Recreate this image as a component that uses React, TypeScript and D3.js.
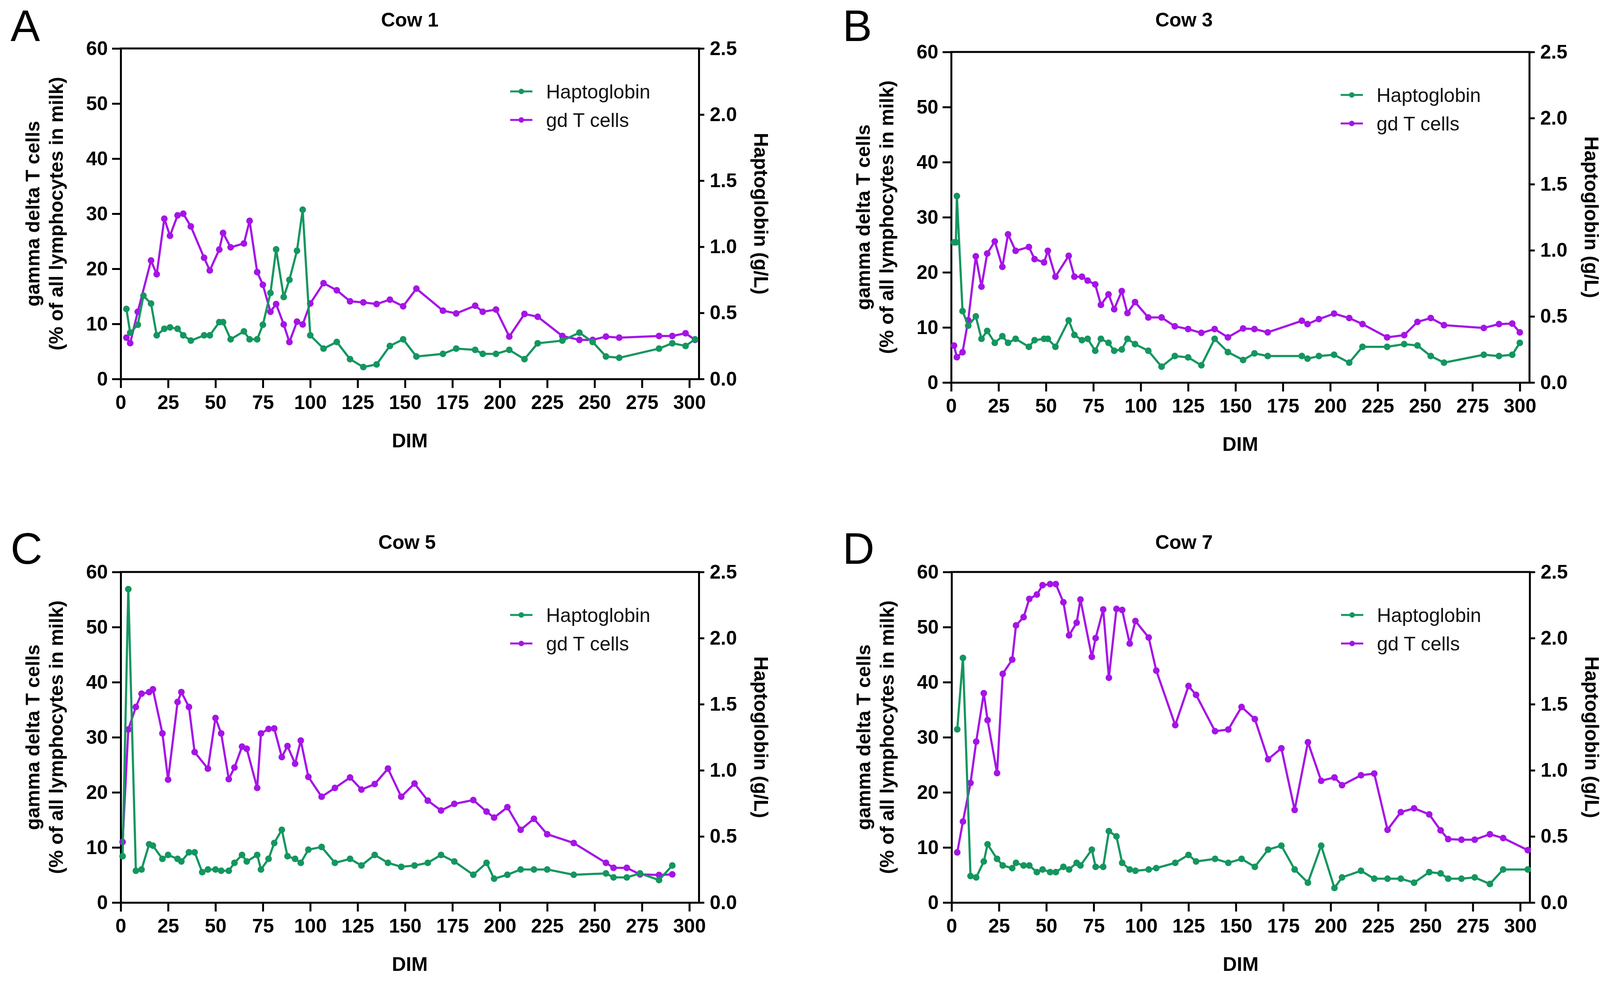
import { useEffect, useRef } from 'react'
import * as d3 from 'd3'

// ---- data (DIM = days in milk) ----
// gd T cells: % of all lymphocytes in milk (left axis)
// Haptoglobin: g/L (right axis)

const dimTicks = [0, 25, 50, 75, 100, 125, 150, 175, 200, 225, 250, 275, 300]
const gdTicks = [0, 10, 20, 30, 40, 50, 60]
const hapTicks = [0, 0.5, 1.0, 1.5, 2.0, 2.5]
const seriesLabels = ['Haptoglobin', 'gd T cells']

// Cow 1
const cow1GdDim = [3, 5, 9, 16, 19, 23, 26, 30, 33, 37, 44, 47, 52, 54, 58, 65, 68, 72, 75, 79, 82, 86, 89, 93, 96, 100, 107, 114, 121, 128, 135, 142, 149, 156, 170, 177, 187, 191, 198, 205, 213, 220, 233, 242, 249, 256, 263, 284, 291, 298, 303]
const cow1Gd = [7.5, 6.5, 12.2, 21.5, 19.0, 29.1, 26.0, 29.7, 30.0, 27.7, 22.0, 19.7, 23.5, 26.5, 23.9, 24.6, 28.7, 19.4, 17.1, 12.2, 13.6, 9.9, 6.7, 10.4, 9.9, 13.7, 17.4, 16.1, 14.1, 13.9, 13.6, 14.4, 13.2, 16.4, 12.4, 11.9, 13.3, 12.2, 12.6, 7.7, 11.8, 11.3, 7.8, 7.1, 7.1, 7.7, 7.5, 7.8, 7.8, 8.3, 7.1]
const cow1HapDim = [3, 5, 9, 12, 16, 19, 23, 26, 30, 33, 37, 44, 47, 52, 54, 58, 65, 68, 72, 75, 79, 82, 86, 89, 93, 96, 100, 107, 114, 121, 128, 135, 142, 149, 156, 170, 177, 187, 191, 198, 205, 213, 220, 233, 242, 249, 256, 263, 284, 291, 298, 303]
const cow1Hap = [0.53, 0.35, 0.41, 0.63, 0.57, 0.33, 0.38, 0.39, 0.38, 0.33, 0.29, 0.33, 0.33, 0.43, 0.43, 0.30, 0.36, 0.30, 0.30, 0.41, 0.65, 0.98, 0.62, 0.75, 0.97, 1.28, 0.33, 0.23, 0.28, 0.15, 0.09, 0.11, 0.25, 0.30, 0.17, 0.19, 0.23, 0.22, 0.19, 0.19, 0.22, 0.15, 0.27, 0.29, 0.35, 0.28, 0.17, 0.16, 0.23, 0.27, 0.25, 0.30]

// Cow 3
const cow3GdDim = [1.5, 3, 6, 9, 13, 16, 19, 23, 27, 30, 34, 41, 44, 49, 51, 55, 62, 65, 69, 72, 76, 79, 83, 86, 90, 93, 97, 104, 111, 118, 125, 132, 139, 146, 154, 160, 167, 185, 188, 194, 202, 210, 217, 230, 239, 246, 253, 260, 281, 289, 296, 300]
const cow3Gd = [6.7, 4.6, 5.5, 11.3, 22.9, 17.4, 23.4, 25.6, 21.0, 26.9, 23.9, 24.6, 22.4, 21.8, 23.9, 19.2, 23.0, 19.2, 19.2, 18.5, 17.8, 14.1, 16.0, 13.3, 16.6, 12.6, 14.6, 11.8, 11.8, 10.2, 9.7, 9.0, 9.7, 8.2, 9.8, 9.7, 9.1, 11.2, 10.6, 11.5, 12.5, 11.7, 10.6, 8.2, 8.6, 11.0, 11.7, 10.4, 9.9, 10.6, 10.7, 9.1]
const cow3HapDim = [1.5, 2.5, 3, 6, 9, 13, 16, 19, 23, 27, 30, 34, 41, 44, 49, 51, 55, 62, 65, 69, 72, 76, 79, 83, 86, 90, 93, 97, 104, 111, 118, 125, 132, 139, 146, 154, 160, 167, 185, 188, 194, 202, 210, 217, 230, 239, 246, 253, 260, 281, 289, 296, 300]
const cow3Hap = [1.06, 1.06, 1.41, 0.54, 0.43, 0.50, 0.33, 0.39, 0.30, 0.35, 0.30, 0.33, 0.27, 0.32, 0.33, 0.33, 0.27, 0.47, 0.36, 0.32, 0.33, 0.24, 0.33, 0.30, 0.24, 0.25, 0.33, 0.29, 0.24, 0.12, 0.20, 0.19, 0.13, 0.33, 0.23, 0.17, 0.22, 0.20, 0.20, 0.18, 0.20, 0.21, 0.15, 0.27, 0.27, 0.29, 0.28, 0.20, 0.15, 0.21, 0.20, 0.21, 0.30]

// Cow 5
const cow5GdDim = [1, 4, 8, 11, 15, 17, 22, 25, 30, 32, 36, 39, 46, 50, 53, 57, 60, 64, 66.5, 72, 74, 78, 81, 85, 88, 92, 95, 99, 106, 113, 121, 127, 134, 141, 148, 155, 162, 169, 176, 186, 193, 197, 204, 211, 218, 225, 239, 256, 260, 267, 274, 284, 291]
const cow5Gd = [11.0, 31.4, 35.5, 37.9, 38.2, 38.7, 30.7, 22.3, 36.4, 38.2, 35.5, 27.3, 24.3, 33.5, 30.7, 22.4, 24.5, 28.3, 27.9, 20.8, 30.7, 31.5, 31.6, 26.4, 28.4, 25.2, 29.4, 22.8, 19.2, 20.8, 22.7, 20.5, 21.5, 24.3, 19.2, 21.6, 18.5, 16.7, 17.9, 18.6, 16.5, 15.4, 17.3, 13.2, 15.2, 12.4, 10.8, 7.2, 6.3, 6.3, 5.1, 5.0, 5.1]
const cow5HapDim = [1, 4, 8, 11, 15, 17, 22, 25, 30, 32, 36, 39, 43, 46, 50, 53, 57, 60, 64, 66.5, 72, 74, 78, 81, 85, 88, 92, 95, 99, 106, 113, 121, 127, 134, 141, 148, 155, 162, 169, 176, 186, 193, 197, 204, 211, 218, 225, 239, 256, 260, 267, 274, 284, 291]
const cow5Hap = [0.35, 2.37, 0.24, 0.25, 0.44, 0.43, 0.33, 0.36, 0.33, 0.31, 0.38, 0.38, 0.23, 0.25, 0.25, 0.24, 0.24, 0.30, 0.36, 0.31, 0.36, 0.25, 0.33, 0.45, 0.55, 0.35, 0.33, 0.30, 0.40, 0.42, 0.30, 0.33, 0.28, 0.36, 0.30, 0.27, 0.28, 0.30, 0.36, 0.31, 0.21, 0.30, 0.18, 0.21, 0.25, 0.25, 0.25, 0.21, 0.22, 0.19, 0.19, 0.22, 0.17, 0.28]

// Cow 7
const cow7GdDim = [3, 6, 10, 13, 17, 19, 24, 27, 32, 34, 38, 41, 45, 48, 52, 55, 59, 62, 66, 68, 74, 76, 80, 83, 87, 90, 94, 97, 104, 108, 118, 125, 129, 139, 146, 153, 160, 167, 174, 181, 188, 195, 202, 206, 216, 223, 230, 237, 244, 252, 258, 262, 269, 276, 284, 291, 304]
const cow7Gd = [9.1, 14.7, 21.7, 29.2, 38.0, 33.1, 23.5, 41.5, 44.1, 50.3, 51.8, 55.1, 55.9, 57.6, 57.8, 57.8, 54.5, 48.5, 50.8, 55.0, 44.6, 48.0, 53.2, 40.8, 53.3, 53.1, 47.0, 51.1, 48.1, 42.1, 32.2, 39.3, 37.7, 31.1, 31.4, 35.5, 33.3, 26.0, 28.0, 16.8, 29.1, 22.1, 22.7, 21.3, 23.1, 23.4, 13.2, 16.4, 17.1, 16.0, 13.1, 11.5, 11.4, 11.4, 12.4, 11.7, 9.5]
const cow7HapDim = cow7GdDim
const cow7Hap = [1.31, 1.85, 0.20, 0.19, 0.31, 0.44, 0.33, 0.28, 0.26, 0.30, 0.28, 0.28, 0.23, 0.25, 0.23, 0.23, 0.27, 0.25, 0.30, 0.28, 0.40, 0.27, 0.27, 0.54, 0.50, 0.30, 0.25, 0.24, 0.25, 0.26, 0.30, 0.36, 0.31, 0.33, 0.30, 0.33, 0.27, 0.40, 0.43, 0.25, 0.15, 0.43, 0.11, 0.19, 0.24, 0.18, 0.18, 0.18, 0.15, 0.23, 0.22, 0.18, 0.18, 0.19, 0.14, 0.25, 0.25]

const FONT = '"Liberation Sans", Arial, Helvetica, sans-serif'
const GREEN = '#14965f'
const PURPLE = '#a514e6'
const PLOT_W = 1480
const PLOT_H = 846
const X_MAX = 305
const AXIS_W = 5

interface PanelProps {
  letter: string
  title: string
  left: number
  top: number
  titleX: number
  titleY: number
  letterX: number
  letterY: number
  gdDim: number[]
  gd: number[]
  hapDim: number[]
  hap: number[]
}

function CowPanel(p: PanelProps) {
  const ref = useRef<SVGGElement>(null)

  useEffect(() => {
    if (!ref.current) return
    const root = d3.select(ref.current)
    root.selectAll('*').remove()

    const x = d3.scaleLinear().domain([0, X_MAX]).range([0, PLOT_W])
    const yL = d3.scaleLinear().domain([0, 60]).range([PLOT_H, 0])
    const yR = d3.scaleLinear().domain([0, 2.5]).range([PLOT_H, 0])

    // panel letter + title
    root.append('text')
      .attr('x', p.letterX)
      .attr('y', p.letterY)
      .attr('font-family', FONT)
      .attr('font-size', 113)
      .text(p.letter)

    root.append('text')
      .attr('x', p.titleX)
      .attr('y', p.titleY)
      .attr('text-anchor', 'middle')
      .attr('font-family', FONT)
      .attr('font-weight', 'bold')
      .attr('font-size', 50)
      .text(p.title)

    const g = root.append('g').attr('transform', `translate(${p.left},${p.top})`)

    // top frame line
    g.append('line')
      .attr('x1', 0).attr('x2', PLOT_W)
      .attr('y1', 0).attr('y2', 0)
      .attr('stroke', '#000')
      .attr('stroke-width', AXIS_W)
      .attr('stroke-linecap', 'square')

    const styleAxis = (sel: d3.Selection<SVGGElement, unknown, null, undefined>) => {
      sel.attr('font-size', 50)
        .attr('font-family', FONT)
        .attr('font-weight', 'bold')
      sel.selectAll('path.domain')
        .attr('stroke-width', AXIS_W)
        .attr('stroke-linecap', 'square')
      sel.selectAll('.tick line').attr('stroke-width', AXIS_W)
      sel.selectAll('.tick text').attr('fill', '#000')
    }

    g.append('g')
      .attr('transform', `translate(0,${PLOT_H})`)
      .call(d3.axisBottom(x).tickValues(dimTicks).tickSize(23).tickSizeOuter(0).tickPadding(18).tickFormat(d3.format('d')))
      .call(styleAxis)

    g.append('g')
      .call(d3.axisLeft(yL).tickValues(gdTicks).tickSize(22).tickSizeOuter(0).tickPadding(11).tickFormat(d3.format('d')))
      .call(styleAxis)

    g.append('g')
      .attr('transform', `translate(${PLOT_W},0)`)
      .call(d3.axisRight(yR).tickValues(hapTicks).tickSize(14).tickSizeOuter(0).tickPadding(14).tickFormat(d3.format('.1f')))
      .call(styleAxis)

    // axis titles
    const ylab = g.append('text')
      .attr('transform', `translate(${-208},${PLOT_H / 2}) rotate(-90)`)
      .attr('text-anchor', 'middle')
      .attr('font-family', FONT)
      .attr('font-weight', 'bold')
      .attr('font-size', 50)
    ylab.append('tspan').attr('x', 0).attr('y', 0).text('gamma delta T cells')
    ylab.append('tspan').attr('x', 0).attr('y', 60).text('(% of all lymphocytes in milk)')

    g.append('text')
      .attr('transform', `translate(${PLOT_W + 142},${PLOT_H / 2}) rotate(90)`)
      .attr('text-anchor', 'middle')
      .attr('font-family', FONT)
      .attr('font-weight', 'bold')
      .attr('font-size', 50)
      .text('Haptoglobin (g/L)')

    g.append('text')
      .attr('x', PLOT_W / 2)
      .attr('y', PLOT_H + 175)
      .attr('text-anchor', 'middle')
      .attr('font-family', FONT)
      .attr('font-weight', 'bold')
      .attr('font-size', 50)
      .text('DIM')

    // series
    const gdPts = d3.zip(p.gdDim, p.gd) as [number, number][]
    const hapPts = d3.zip(p.hapDim, p.hap) as [number, number][]

    const gdLine = d3.line<[number, number]>().x(d => x(d[0])).y(d => yL(d[1]))
    const hapLine = d3.line<[number, number]>().x(d => x(d[0])).y(d => yR(d[1]))

    const drawSeries = (pts: [number, number][], line: d3.Line<[number, number]>, y: d3.ScaleLinear<number, number>, color: string) => {
      g.append('path')
        .datum(pts)
        .attr('d', line)
        .attr('fill', 'none')
        .attr('stroke', color)
        .attr('stroke-width', 5.5)
        .attr('stroke-linejoin', 'round')
      g.append('g')
        .selectAll('circle')
        .data(pts)
        .join('circle')
        .attr('cx', d => x(d[0]))
        .attr('cy', d => y(d[1]))
        .attr('r', 8.5)
        .attr('fill', color)
    }

    drawSeries(gdPts, gdLine, yL, PURPLE)
    drawSeries(hapPts, hapLine, yR, GREEN)

    // legend
    const legend = g.append('g').attr('transform', 'translate(997,110)')
    ;[GREEN, PURPLE].forEach((color, i) => {
      const row = legend.append('g').attr('transform', `translate(0,${i * 73})`)
      row.append('line')
        .attr('x1', 0).attr('x2', 57)
        .attr('stroke', color)
        .attr('stroke-width', 5)
      row.append('circle').attr('cx', 28.5).attr('r', 7).attr('fill', color)
      row.append('text')
        .attr('x', 92)
        .attr('dy', '0.35em')
        .attr('font-family', FONT)
        .attr('font-size', 50)
        .attr('fill', '#111')
        .text(seriesLabels[i])
    })
  }, [p])

  return <g ref={ref} />
}

export default function App() {
  return (
    <svg
      width={4115}
      height={2516}
      style={{ position: 'absolute', left: 0, top: 0, background: '#fff' }}
    >
      <rect width={4115} height={2516} fill="#fff" />
      <CowPanel letter="A" title="Cow 1" left={309} top={124} titleX={1049} titleY={68} letterX={27} letterY={105}
        gdDim={cow1GdDim} gd={cow1Gd} hapDim={cow1HapDim} hap={cow1Hap} />
      <CowPanel letter="B" title="Cow 3" left={2435} top={133} titleX={3031} titleY={68} letterX={2157} letterY={105}
        gdDim={cow3GdDim} gd={cow3Gd} hapDim={cow3HapDim} hap={cow3Hap} />
      <CowPanel letter="C" title="Cow 5" left={309} top={1464} titleX={1042} titleY={1405} letterX={27} letterY={1443}
        gdDim={cow5GdDim} gd={cow5Gd} hapDim={cow5HapDim} hap={cow5Hap} />
      <CowPanel letter="D" title="Cow 7" left={2436} top={1464} titleX={3031} titleY={1405} letterX={2157} letterY={1443}
        gdDim={cow7GdDim} gd={cow7Gd} hapDim={cow7HapDim} hap={cow7Hap} />
    </svg>
  )
}
